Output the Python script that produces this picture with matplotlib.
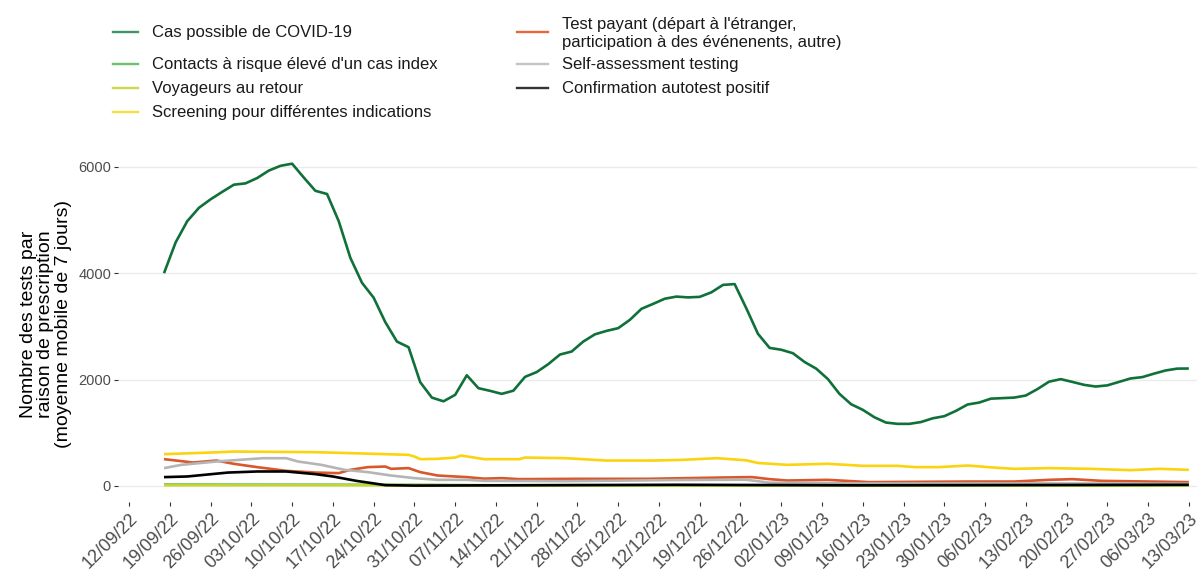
import datetime as dt

import matplotlib
matplotlib.use("Agg")
import matplotlib.pyplot as plt
import matplotlib.dates as mdates
from matplotlib.lines import Line2D

plt.rcParams["font.family"] = ["Liberation Sans", "DejaVu Sans"]

# main series, one value every 2 days from 18/09/22
cas_start = dt.datetime(2022, 9, 18)
cas_possible = [
    4000, 4580, 4980, 5230, 5390, 5530, 5665, 5690, 5790, 5930,
    6020, 6060, 5800, 5550, 5490, 4980, 4290, 3820, 3540, 3080,
    2714, 2608, 1950, 1660, 1590, 1712, 2080, 1837, 1787, 1730,
    1790, 2050, 2140, 2290, 2470, 2526, 2714, 2850, 2915, 2966,
    3122, 3330, 3423, 3520, 3560, 3545, 3555, 3640, 3780, 3795,
    3340, 2860, 2595, 2560, 2495, 2330, 2205, 2010, 1730, 1535,
    1430, 1290, 1190, 1166, 1166, 1200, 1270, 1310, 1410, 1530,
    1567, 1640, 1650, 1660, 1699, 1820, 1960, 2007, 1955, 1900,
    1868, 1890, 1955, 2020, 2045, 2110, 2170, 2205, 2207,
]

screening_dates = [
    "2022-09-18", "2022-09-26", "2022-09-30", "2022-10-06", "2022-10-14",
    "2022-10-20", "2022-10-26", "2022-10-30", "2022-10-31", "2022-11-01",
    "2022-11-04", "2022-11-07", "2022-11-08", "2022-11-12", "2022-11-18",
    "2022-11-19", "2022-11-26", "2022-12-03", "2022-12-11", "2022-12-16",
    "2022-12-22", "2022-12-27", "2022-12-29", "2023-01-03", "2023-01-10",
    "2023-01-16", "2023-01-22", "2023-01-25", "2023-01-29", "2023-02-03",
    "2023-02-08", "2023-02-11", "2023-02-17", "2023-02-24", "2023-03-03",
    "2023-03-08", "2023-03-13",
]
screening = [
    596, 626, 645, 640, 633, 615, 596, 583, 551, 502,
    508, 532, 570, 502, 502, 532, 520, 476, 476, 489,
    520, 480, 430, 395, 415, 376, 376, 352, 352, 382,
    340, 320, 333, 320, 295, 320, 301,
]

payant_dates = [
    "2022-09-18", "2022-09-23", "2022-09-27", "2022-09-30", "2022-10-04",
    "2022-10-09", "2022-10-14", "2022-10-18", "2022-10-20", "2022-10-23",
    "2022-10-26", "2022-10-27", "2022-10-30", "2022-11-01", "2022-11-04",
    "2022-11-09", "2022-11-12", "2022-11-15", "2022-11-18", "2022-11-28",
    "2022-12-10", "2022-12-23", "2022-12-28", "2022-12-31", "2023-01-03",
    "2023-01-10", "2023-01-17", "2023-02-03", "2023-02-11", "2023-02-17",
    "2023-02-21", "2023-02-26", "2023-03-06", "2023-03-13",
]
payant = [
    502, 439, 476, 414, 352, 282, 250, 239, 301, 352,
    363, 320, 333, 258, 194, 164, 135, 145, 126, 132,
    132, 157, 164, 126, 100, 113, 70, 81, 81, 113,
    126, 94, 81, 70,
]

self_dates = [
    "2022-09-18", "2022-09-21", "2022-09-27", "2022-10-01", "2022-10-05",
    "2022-10-09", "2022-10-11", "2022-10-15", "2022-10-19", "2022-10-23",
    "2022-10-27", "2022-10-31", "2022-11-04", "2022-11-09", "2022-11-12",
    "2022-11-26", "2022-12-16", "2022-12-27", "2022-12-31", "2023-01-15",
    "2023-02-13", "2023-03-13",
]
self_test = [
    333, 395, 458, 489, 520, 520, 458, 395, 301, 258,
    194, 145, 113, 113, 94, 88, 110, 115, 60, 45,
    45, 40,
]

confirm_dates = [
    "2022-09-18", "2022-09-22", "2022-09-29", "2022-10-04", "2022-10-09",
    "2022-10-14", "2022-10-17", "2022-10-21", "2022-10-23", "2022-10-26",
    "2022-10-31", "2022-11-15", "2022-12-15", "2023-01-15", "2023-02-15",
    "2023-03-13",
]
confirm = [164, 176, 250, 270, 270, 220, 176, 94, 62, 13, 5, 10, 20, 10, 15, 20]

contacts_dates = ["2022-09-18", "2022-10-31", "2022-11-15", "2023-03-13"]
contacts = [25, 20, 8, 5]

voyageurs_dates = ["2022-09-18", "2022-10-31", "2022-12-15", "2023-03-13"]
voyageurs = [12, 12, 10, 8]

labels = [
    "Cas possible de COVID-19",
    "Contacts à risque élevé d'un cas index",
    "Voyageurs au retour",
    "Screening pour différentes indications",
    "Test payant (départ à l'étranger,\nparticipation à des événenents, autre)",
    "Self-assessment testing",
    "Confirmation autotest positif",
]
colors = ["#0f7139", "#5cbf5a", "#c3d42e", "#f9d40f", "#d8582b", "#b5b5b5", "#000000"]
legend_colors = ["#3d9664", "#6cc46a", "#cdd84a", "#fadc3a", "#e8673d", "#c4c4c4", "#333333"]


def to_dates(strs):
    return [dt.datetime.strptime(s, "%Y-%m-%d") for s in strs]


cas_dates = [cas_start + dt.timedelta(days=2 * i) for i in range(len(cas_possible))]

series = [
    (cas_dates, cas_possible),
    (to_dates(contacts_dates), contacts),
    (to_dates(voyageurs_dates), voyageurs),
    (to_dates(screening_dates), screening),
    (to_dates(payant_dates), payant),
    (to_dates(self_dates), self_test),
    (to_dates(confirm_dates), confirm),
]

W, H = 1201, 575
fig = plt.figure(figsize=(W / 100, H / 100), dpi=100)
ax = fig.add_axes([118 / W, 1 - 502 / H, (1197 - 118) / W, (502 - 147) / H])

for (x, y), c in zip(series, colors):
    ax.plot(x, y, color=c, lw=1.9, solid_capstyle="butt")

ax.set_ylim(-304, 6374)
ax.set_yticks([0, 2000, 4000, 6000])
x0 = dt.datetime(2022, 9, 12)
ax.set_xlim(x0 - dt.timedelta(days=1.9), x0 + dt.timedelta(days=183.4))
ticks = [x0 + dt.timedelta(days=7 * i) for i in range(27)]
ax.set_xticks(ticks)
ax.xaxis.set_major_formatter(mdates.DateFormatter("%d/%m/%y"))

ax.grid(axis="y", color="#ebebeb", lw=1.0)
ax.grid(axis="x", visible=False)
ax.set_axisbelow(True)
for s in ax.spines.values():
    s.set_visible(False)

ax.tick_params(axis="both", color="#333333", length=3, width=0.8)
ax.tick_params(axis="y", labelsize=10.5, labelcolor="#4d4d4d", pad=2)
ax.tick_params(axis="x", labelsize=13, labelcolor="#4d4d4d", pad=3)
for lab in ax.get_xticklabels():
    lab.set_rotation(45)
    lab.set_ha("right")
    lab.set_va("top")
    lab.set_rotation_mode("anchor")

ax.set_ylabel("Nombre des tests par\nraison de prescription\n(moyenne mobile de 7 jours)",
              fontsize=14, linespacing=1.05, color="black")
ax.yaxis.set_label_coords(-0.0426, 0.5)


def px(x, y):
    return x / W, 1 - y / H


# legend, two columns with aligned rows
col1 = [(0, 32), (1, 64), (2, 88), (3, 112)]
col2 = [(4, 32), (5, 64), (6, 88)]
for entries, hx1, hx2, tx in [(col1, 113, 138, 152), (col2, 517, 548, 562)]:
    for idx, yy in entries:
        a, b = px(hx1, yy)
        c, _ = px(hx2, yy)
        fig.add_artist(Line2D([a, c], [b, b], transform=fig.transFigure,
                              color=legend_colors[idx], lw=1.7))
        tx_, ty_ = px(tx, yy + 1)
        fig.text(tx_, ty_, labels[idx], fontsize=12, va="center", ha="left",
                 color="#1a1a1a", linespacing=1.25)

fig.savefig("out.png", dpi=100)
